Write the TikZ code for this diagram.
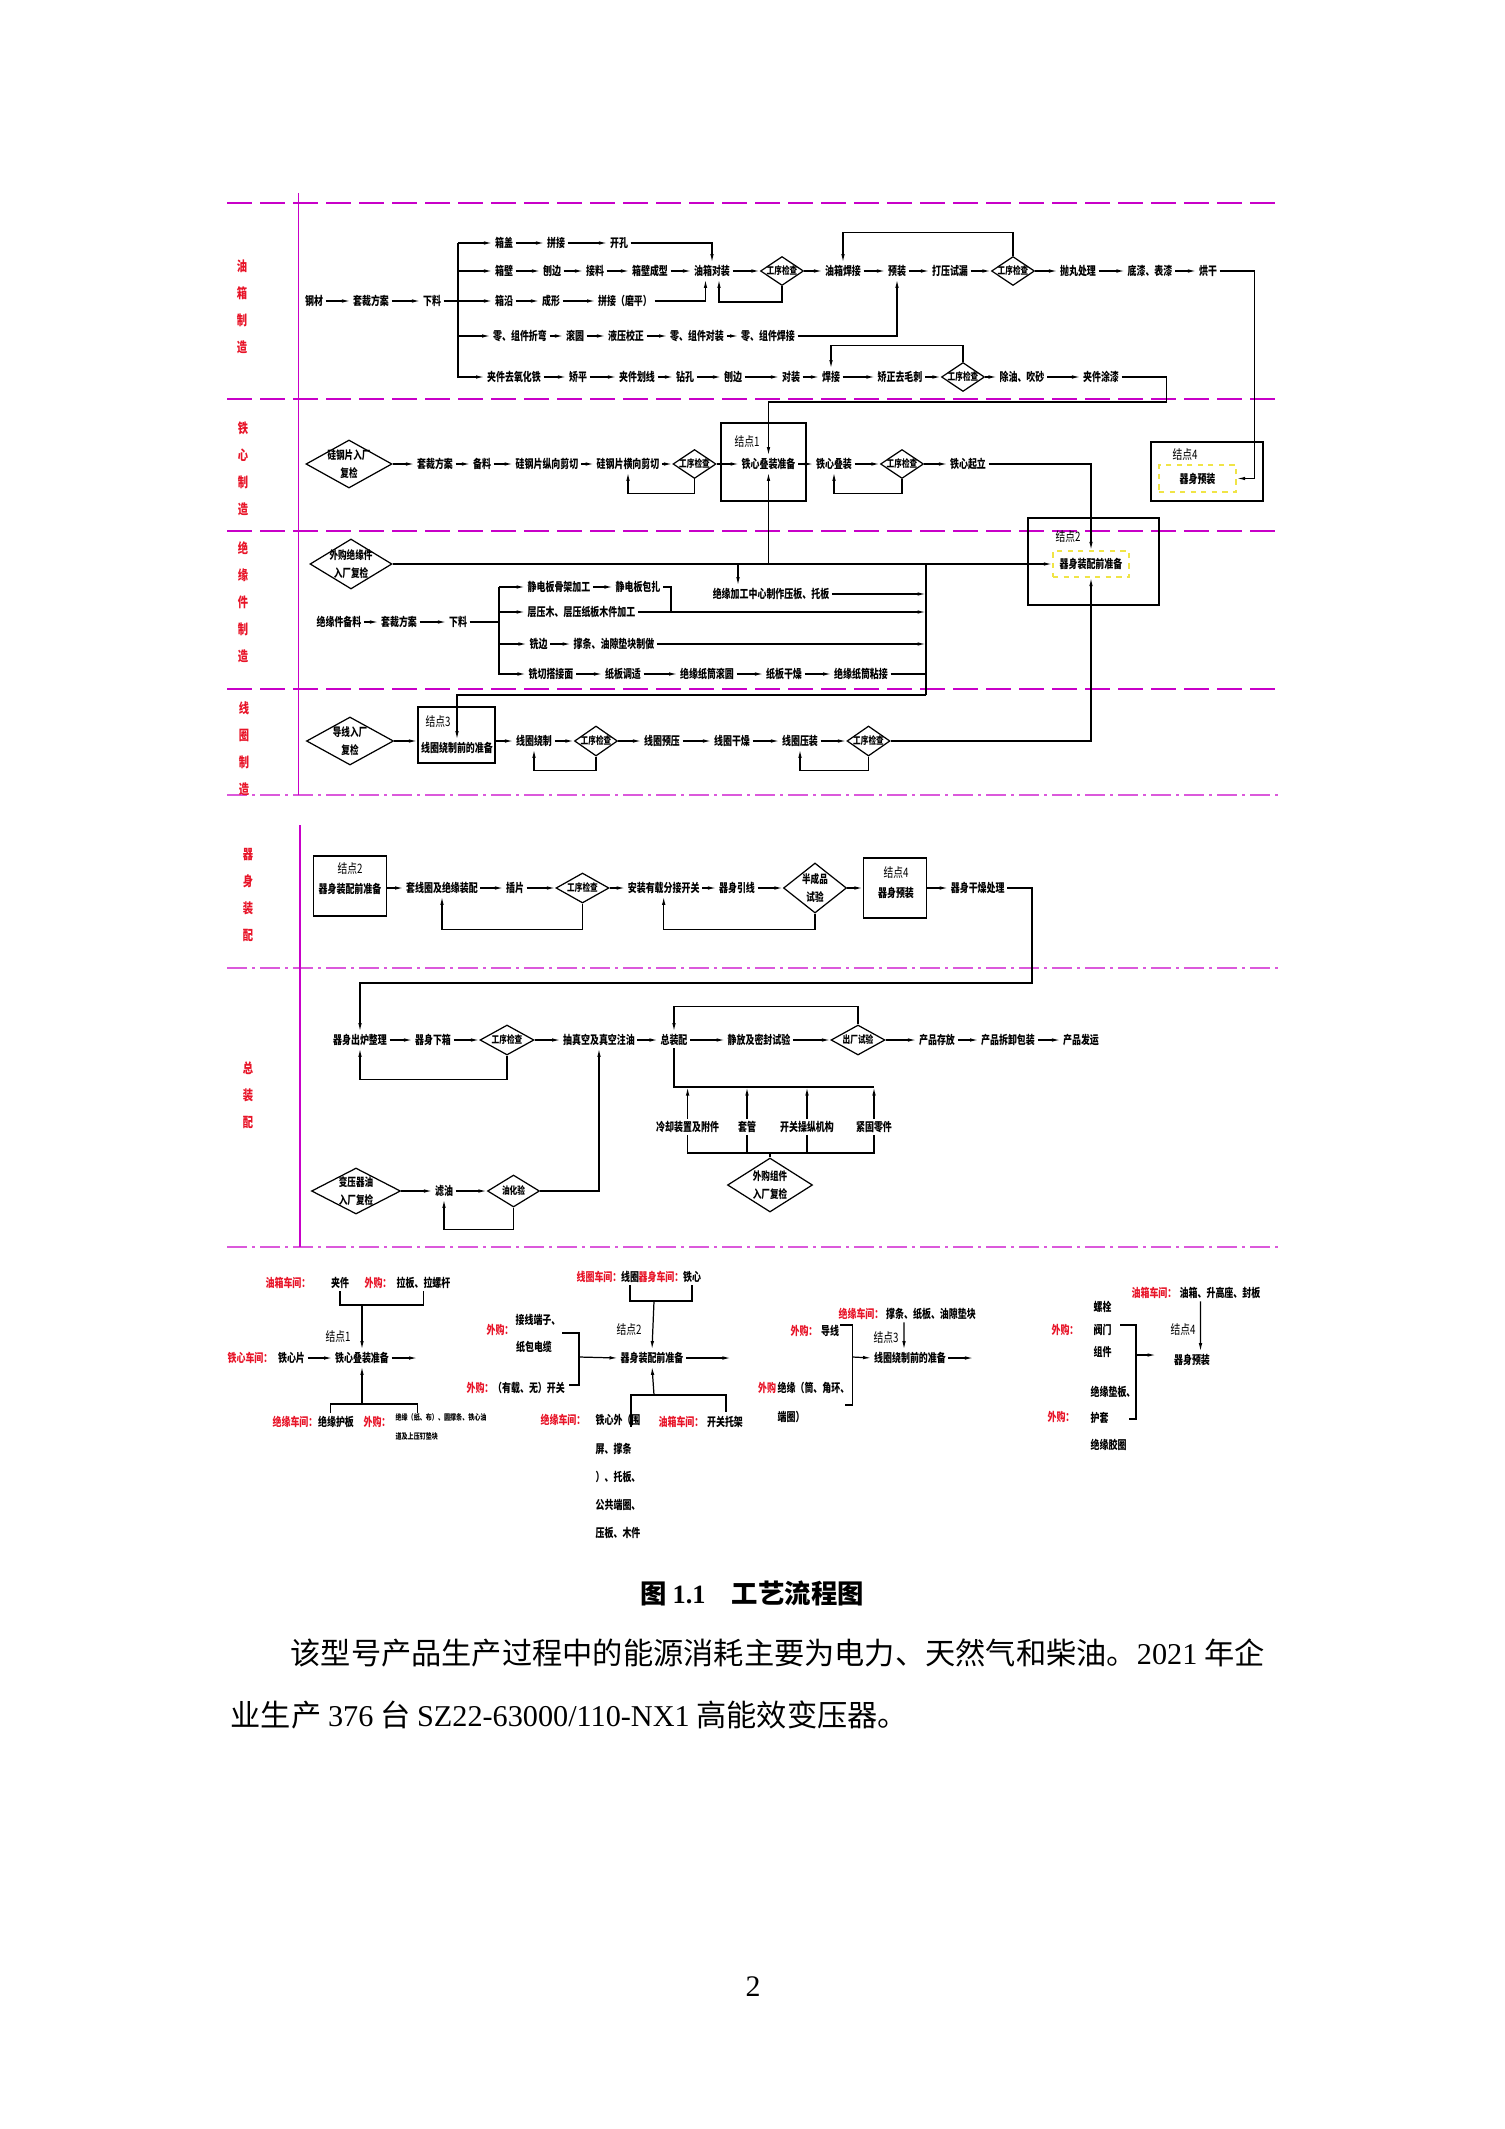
\documentclass[tikz,border=0pt]{standalone}
\usepackage{fontspec}
\setmainfont{Noto Sans CJK SC}
\newfontfamily\dgm[FakeStretch=0.75]{Noto Sans CJK SC}
\newfontfamily\lat{Liberation Serif}
\usepackage{tikz}
\usetikzlibrary{arrows.meta,shapes.geometric}
\definecolor{lanecol}{RGB}{200,0,200}
\definecolor{shopred}{RGB}{232,20,40}
\definecolor{knotyel}{RGB}{240,228,70}

\begin{document}
\begin{tikzpicture}[x=0.2mm,y=-0.2mm,line width=0.7pt]
  \tikzstyle{every node}=[font=\dgm\bfseries\fontsize{6.8}{8}\selectfont,inner sep=0.4mm]
  \tikzstyle{arr}=[-{Latex[length=1.7mm,width=0.7mm]}]
  \tikzstyle{lanea}=[draw=lanecol,line width=0.75pt,dash pattern=on 5mm off 1.6mm]
  \tikzstyle{laneb}=[draw=lanecol!65,line width=0.8pt,dash pattern=on 4mm off 1mm on 0.6mm off 1mm]
  \tikzstyle{lanev}=[draw=lanecol,line width=0.6pt]
  \tikzstyle{lanetxt}=[text=shopred,align=center,font=\dgm\bfseries\fontsize{7.8}{15.4}\selectfont]
  \tikzstyle{shop}=[text=shopred,font=\dgm\bfseries\fontsize{6.8}{8}\selectfont]
  \tikzstyle{dtxt}=[align=center,font=\dgm\bfseries\fontsize{5.8}{8}\selectfont]
  \tikzstyle{btxt}=[align=center,font=\dgm\bfseries\fontsize{6.5}{10}\selectfont]
  \tikzstyle{chk}=[diamond,draw,inner sep=0,minimum width=8.6mm,minimum height=5.8mm,label={[dtxt]center:工序检查}]
  \tikzstyle{gate}=[diamond,draw,inner sep=0]
  \tikzstyle{knot}=[rectangle,draw,inner sep=0]
  \tikzstyle{pre}=[rectangle,draw=knotyel,dashed,line width=0.8pt,inner sep=0]
  \tikzstyle{knotlab}=[font=\dgm\fontsize{7.4}{8}\selectfont]

  \fill[white] (0,0) rectangle (1505,2129);
  \useasboundingbox (0,0) rectangle (1505,2129);

  % lanes
  \foreach \y in {203,399,531,689} \draw[lanea] (227,\y) -- (1275,\y);
  \foreach \y in {795,968,1247} \draw[laneb] (227,\y) -- (1278,\y);
  \draw[lanev] (298.5,193) -- (298.5,795);
  \draw[lanev] (300,825) -- (300,1247);
  \node (ln1) at (242,307) [lanetxt] {油\\箱\\制\\造};
  \node (ln2) at (243,469) [lanetxt] {铁\\心\\制\\造};
  \node (ln3) at (243,602) [lanetxt] {绝\\缘\\件\\制\\造};
  \node (ln4) at (244,749) [lanetxt] {线\\圈\\制\\造};
  \node (ln5) at (248,895) [lanetxt] {器\\身\\装\\配};
  \node (ln6) at (248,1095) [lanetxt] {总\\装\\配};

  % oil tank
  \node (gc)   at (314,301) {钢材};
  \node (tc1)  at (371,301) {套裁方案};
  \node (xl1)  at (432,301) {下料};
  \coordinate (yxbus) at (458,243);
  \node (xg)   at (504,243) {箱盖};
  \node (pj1)  at (556,243) {拼接};
  \node (kk)   at (619,243) {开孔};
  \node (xb)   at (504,271) {箱壁};
  \node (bb1)  at (552,271) {刨边};
  \node (jl)   at (595,271) {接料};
  \node (xbcx) at (650,271) {箱壁成型};
  \node (dz)   at (712,271) {油箱对装};
  \node (c1)   at (782,271) [chk] {};
  \node (hj1)  at (843,271) {油箱焊接};
  \node (yz)   at (897,271) {预装};
  \node (dy)   at (950,271) {打压试漏};
  \node (c2)   at (1013,271) [chk] {};
  \node (pw)   at (1078,271) {抛丸处理};
  \node (dq)   at (1150,271) {底漆、表漆};
  \node (hg)   at (1208,271) {烘干};
  \node (xy)   at (504,301) {箱沿};
  \node (cx)   at (551,301) {成形};
  \node (pjm)  at (625,301) {拼接（磨平）};
  \node (lzw)  at (520,336) {零、组件折弯};
  \node (gy)   at (575,336) {滚圆};
  \node (yy)   at (626,336) {液压校正};
  \node (ldz)  at (697,336) {零、组件对装};
  \node (lhj)  at (768,336) {零、组件焊接};
  \node (jq)   at (514,377) {夹件去氧化铁};
  \node (jp)   at (578,377) {矫平};
  \node (jh)   at (637,377) {夹件划线};
  \node (zk)   at (685,377) {钻孔};
  \node (bb2)  at (733,377) {刨边};
  \node (dz2)  at (791,377) {对装};
  \node (hj2)  at (831,377) {焊接};
  \node (jz)   at (900,377) {矫正去毛刺};
  \node (c3)   at (963,377) [chk] {};
  \node (cy)   at (1022,377) {除油、吹砂};
  \node (jtq)  at (1101,377) {夹件涂漆};

  \draw[arr] (gc) -- (tc1);
  \draw[arr] (tc1) -- (xl1);
  \draw (xl1.east) -- (xl1.east -| yxbus);
  \foreach \n in {xg,xb,xy,lzw,jq} \draw[arr] (yxbus) |- (\n.west);
  \draw[arr] (xg) -- (pj1);
  \draw[arr] (pj1) -- (kk);
  \draw[arr] (kk.east) -| (dz.north);
  \draw[arr] (xb) -- (bb1);
  \draw[arr] (bb1) -- (jl);
  \draw[arr] (jl) -- (xbcx);
  \draw[arr] (xbcx) -- (dz);
  \draw[arr] (dz) -- (c1);
  \draw[arr] (c1) -- (hj1);
  \draw[arr] (hj1) -- (yz);
  \draw[arr] (yz) -- (dy);
  \draw[arr] (dy) -- (c2);
  \draw[arr] (c2) -- (pw);
  \draw[arr] (pw) -- (dq);
  \draw[arr] (dq) -- (hg);
  \draw[arr] (c1.south) -- ++(0,16) -| ([xshift=1.4mm]dz.south);
  \draw[arr] (c2.north) -- ++(0,-23) -| (hj1.north);
  \draw[arr] (xy) -- (cx);
  \draw[arr] (cx) -- (pjm);
  \draw[arr] (pjm.east) -| ([xshift=-1.3mm]dz.south);
  \draw[arr] (lzw) -- (gy);
  \draw[arr] (gy) -- (yy);
  \draw[arr] (yy) -- (ldz);
  \draw[arr] (ldz) -- (lhj);
  \draw[arr] (lhj.east) -| (yz.south);
  \draw[arr] (jq) -- (jp);
  \draw[arr] (jp) -- (jh);
  \draw[arr] (jh) -- (zk);
  \draw[arr] (zk) -- (bb2);
  \draw[arr] (bb2) -- (dz2);
  \draw[arr] (dz2) -- (hj2);
  \draw[arr] (hj2) -- (jz);
  \draw[arr] (jz) -- (c3);
  \draw[arr] (c3) -- (cy);
  \draw[arr] (cy) -- (jtq);
  \draw[arr] (c3.north) -- ++(0,-16) -| (hj2.north);

  % core
  \node (k1)   at (763.5,462) [knot,minimum width=17mm,minimum height=15.6mm] {};
  \node (k1lab) at (747,442) [knotlab] {结点1};
  \node (k4)   at (1207,471.5) [knot,minimum width=22.4mm,minimum height=11.8mm] {};
  \node (k4lab) at (1185,455) [knotlab] {结点4};
  \node (ysz)  at (1197.5,478.5) [pre,minimum width=15.4mm,minimum height=5.4mm] {器身预装};
  \node (gj)   at (349,464) [gate,minimum width=17.2mm,minimum height=9.6mm,label={[btxt]center:硅钢片入厂\\复检}] {};
  \node (tc2)  at (435,464) {套裁方案};
  \node (bl)   at (482,464) {备料};
  \node (zx)   at (547,464) {硅钢片纵向剪切};
  \node (hx)   at (628,464) {硅钢片横向剪切};
  \node (c4)   at (694.5,464) [chk] {};
  \node (tdz)  at (768.5,464) {铁心叠装准备};
  \node (tdx)  at (834,464) {铁心叠装};
  \node (c5)   at (902,464) [chk] {};
  \node (tqz)  at (968,464) {铁心起立};

  \draw[arr] (gj) -- (tc2);
  \draw[arr] (tc2) -- (bl);
  \draw[arr] (bl) -- (zx);
  \draw[arr] (zx) -- (hx);
  \draw[arr] (hx) -- (c4);
  \draw[arr] (c4) -- (tdz);
  \draw[arr] (tdz) -- (tdx);
  \draw[arr] (tdx) -- (c5);
  \draw[arr] (c5) -- (tqz);
  \draw[arr] (c4.south) -- ++(0,14) -| (hx.south);
  \draw[arr] (c5.south) -- ++(0,14) -| (tdx.south);
  \draw[arr] (jtq.east) -- ++(45,0) -- ++(0,25) -| (tdz.north);
  \draw[arr] (hg.east) -- ++(35,0) |- (ysz.east);

  % insulation
  \node (k2)   at (1093.5,561.5) [knot,minimum width=26.2mm,minimum height=17.4mm] {};
  \node (k2lab) at (1068,537) [knotlab] {结点2};
  \node (qzb)  at (1091,564) [pre,minimum width=15.2mm,minimum height=5.2mm] {器身装配前准备};
  \node (wg)   at (351,564) [gate,minimum width=16.4mm,minimum height=10mm,label={[btxt]center:外购绝缘件\\入厂复检}] {};
  \node (jgzx) at (771,594) {绝缘加工中心制作压板、托板};
  \node (jcl)  at (339,622) {绝缘件备料};
  \node (tc3)  at (399,622) {套裁方案};
  \node (xl3)  at (458,622) {下料};
  \coordinate (jybus) at (499,587);
  \node (jdgj) at (559,587) {静电板骨架加工};
  \node (jdbz) at (638,587) {静电板包扎};
  \node (cym)  at (581.5,612) {层压木、层压纸板木件加工};
  \node (xb3)  at (538.5,644) {铣边};
  \node (ctd)  at (614,644) {撑条、油隙垫块制做};
  \node (xq)   at (551,674) {铣切搭接面};
  \node (ztz)  at (623,674) {纸板调适};
  \node (ztgy) at (707,674) {绝缘纸筒滚圆};
  \node (zbgz) at (784,674) {纸板干燥};
  \node (ztnj) at (861,674) {绝缘纸筒粘接};
  \coordinate (jgtop) at (738,564);
  \coordinate (bartop) at (926,564);
  \coordinate (barbot) at (926,695);

  \draw[arr] (tqz.east) -| (qzb.north);
  \draw[arr] (wg.east) -- (qzb.west);
  \draw[arr] (tdz |- wg.east) -- (tdz.south);
  \draw[arr] (jgtop) -- (jgtop |- jgzx.north);
  \draw (bartop) -- (barbot);
  \draw[arr] (jcl) -- (tc3);
  \draw[arr] (tc3) -- (xl3);
  \draw (xl3.east) -- (xl3.east -| jybus);
  \foreach \n in {jdgj,cym,xb3,xq} \draw[arr] (jybus) |- (\n.west);
  \draw[arr] (jdgj) -- (jdbz);
  \draw (jdbz.east) -- ++(8,0) -- ++(0,25);
  \draw[arr] (xb3) -- (ctd);
  \draw[arr] (xq) -- (ztz);
  \draw[arr] (ztz) -- (ztgy);
  \draw[arr] (ztgy) -- (zbgz);
  \draw[arr] (zbgz) -- (ztnj);
  \draw[arr] (jgzx.east) -- (jgzx.east -| bartop);
  \draw[arr] (cym.east) -- (cym.east -| bartop);
  \draw[arr] (ctd.east) -- (ctd.east -| bartop);
  \draw (ztnj.east) -- (ztnj.east -| bartop);

  % coil
  \node (k3)   at (456.5,735) [knot,minimum width=15.4mm,minimum height=11.2mm] {};
  \node (k3lab) at (438,722) [knotlab] {结点3};
  \node (xqz)  at (457,748) {线圈绕制前的准备};
  \node (dx)   at (350,741) [gate,minimum width=17.4mm,minimum height=9.6mm,label={[btxt]center:导线入厂\\复检}] {};
  \node (xrz)  at (534,741) {线圈绕制};
  \node (c6)   at (596,741) [chk,minimum height=6mm] {};
  \node (xyy)  at (662,741) {线圈预压};
  \node (xgz)  at (732,741) {线圈干燥};
  \node (xyz)  at (800,741) {线圈压装};
  \node (c7)   at (868.5,741) [chk,minimum height=6mm] {};

  \draw[arr] (barbot) -| (xqz.north);
  \draw[arr] (dx.east) -- (k3.west |- dx.east);
  \draw[arr] (k3.east |- xrz.west) -- (xrz.west);
  \draw[arr] (xrz) -- (c6);
  \draw[arr] (c6) -- (xyy);
  \draw[arr] (xyy) -- (xgz);
  \draw[arr] (xgz) -- (xyz);
  \draw[arr] (xyz) -- (c7);
  \draw[arr] (c6.south) -- ++(0,14) -| (xrz.south);
  \draw[arr] (c7.south) -- ++(0,14) -| (xyz.south);
  \draw[arr] (c7.east) -| (qzb.south);

  % body assembly
  \node (kb2)  at (350,886) [knot,minimum width=14.7mm,minimum height=12mm] {};
  \node (kb2lab) at (350,869) [knotlab] {结点2};
  \node (qz5)  at (350,889) {器身装配前准备};
  \node (tq)   at (442,888) {套线圈及绝缘装配};
  \node (cp)   at (515,888) {插片};
  \node (c8)   at (582.5,888) [chk,minimum width=10.6mm,minimum height=6mm] {};
  \node (az)   at (663.7,888) {安装有载分接开关};
  \node (qyx)  at (737,888) {器身引线};
  \node (bcp)  at (815,888) [gate,minimum width=12.6mm,minimum height=10mm,label={[btxt]center:半成品\\试验}] {};
  \node (kb4)  at (895,888) [knot,minimum width=12.6mm,minimum height=12mm] {};
  \node (kb4lab) at (896,873) [knotlab] {结点4};
  \node (qyz5) at (896,893) {器身预装};
  \node (qgz)  at (977.7,888) {器身干燥处理};
  \coordinate (turn5) at (1032,983);

  \draw[arr] (kb2.east |- tq.west) -- (tq.west);
  \draw[arr] (tq) -- (cp);
  \draw[arr] (cp) -- (c8);
  \draw[arr] (c8) -- (az);
  \draw[arr] (az) -- (qyx);
  \draw[arr] (qyx) -- (bcp);
  \draw[arr] (bcp) -- (kb4);
  \draw[arr] (kb4) -- (qgz);
  \draw[arr] (c8.south) -- ++(0,26) -| (tq.south);
  \draw[arr] (bcp.south) -- ++(0,16) -| (az.south);

  % final assembly
  \node (clzl) at (360,1040) {器身出炉整理};
  \node (qx)   at (433,1040) {器身下箱};
  \node (c9)   at (507,1040) [chk,minimum width=10.8mm,minimum height=6mm] {};
  \node (cz)   at (599,1040) {抽真空及真空注油};
  \node (zzp)  at (674,1040) {总装配};
  \node (jf)   at (759,1040) {静放及密封试验};
  \node (cc)   at (858,1040) [gate,minimum width=10.8mm,minimum height=6mm,label={[dtxt]center:出厂试验}] {};
  \node (cpcf) at (937,1040) {产品存放};
  \node (cpbz) at (1008,1040) {产品拆卸包装};
  \node (cpfy) at (1081,1040) {产品发运};
  \coordinate (pbus) at (874,1087);
  \node (lq)   at (687.6,1127) {冷却装置及附件};
  \node (tg)   at (747,1127) {套管};
  \node (kgc)  at (807,1127) {开关操纵机构};
  \node (jg)   at (874,1127) {紧固零件};
  \coordinate (wbus) at (770,1153);
  \node (wg2)  at (770,1185) [gate,minimum width=17mm,minimum height=10.8mm,label={[btxt]center:外购组件\\入厂复检}] {};
  \node (by)   at (356,1191) [gate,minimum width=17.8mm,minimum height=9.2mm,label={[btxt]center:变压器油\\入厂复检}] {};
  \node (ly)   at (444,1191) {滤油};
  \node (yhy)  at (513.5,1191) [gate,minimum width=10.4mm,minimum height=6.4mm,label={[dtxt]center:油化验}] {};

  \draw[arr] (qgz.east) -| (turn5) -| (clzl.north);
  \draw[arr] (clzl) -- (qx);
  \draw[arr] (qx) -- (c9);
  \draw[arr] (c9) -- (cz);
  \draw[arr] (cz) -- (zzp);
  \draw[arr] (zzp) -- (jf);
  \draw[arr] (jf) -- (cc);
  \draw[arr] (cc) -- (cpcf);
  \draw[arr] (cpcf) -- (cpbz);
  \draw[arr] (cpbz) -- (cpfy);
  \draw[arr] (c9.south) -- ++(0,24) -| (clzl.south);
  \draw[arr] (cc.north) -- ++(0,-18) -| (zzp.north);
  \draw (zzp.south) |- (pbus);
  \foreach \n in {lq,tg,kgc,jg} \draw[arr] (\n.north) -- (\n.north |- pbus);
  \draw (lq.south) |- (wbus) -| (jg.south);
  \draw (tg.south) -- (tg.south |- wbus);
  \draw (kgc.south) -- (kgc.south |- wbus);
  \draw (wbus) -- (wg2.north);
  \draw[arr] (by) -- (ly);
  \draw[arr] (ly) -- (yhy);
  \draw[arr] (yhy.south) -- ++(0,22) -| (ly.south);
  \draw[arr] (yhy.east) -| (cz.south);

  % knot 1
  \node (g1s1) at (288,1283) [shop] {油箱车间：};
  \node (g1jj) at (340,1283) {夹件};
  \node (g1s2) at (378,1283) [shop] {外购：};
  \node (g1lb) at (423.5,1283) {拉板、拉螺杆};
  \coordinate (k1top) at (362,1305);
  \node (g1lab) at (338,1337) [knotlab] {结点1};
  \node (g1s3) at (250,1358) [shop] {铁心车间：};
  \node (g1tp) at (291.5,1358) {铁心片};
  \node (g1td) at (362,1358) {铁心叠装准备};
  \coordinate (k1bot) at (362,1404);
  \coordinate (k1l) at (330.7,1413);
  \coordinate (k1r) at (417.5,1413);
  \node (g1s4) at (295,1422) [shop] {绝缘车间：};
  \node (g1hb) at (336,1422) {绝缘护板};
  \node (g1s5) at (377,1422) [shop] {外购：};
  \node (g1xx) at (393,1411) [anchor=north west,align=left,font=\dgm\bfseries\fontsize{4.6}{10.5}\selectfont] {绝缘（纸、布）、圆撑条、铁心油\\道及上压钉垫块};
  \draw (g1jj.south) |- (k1top) -| (g1lb.south);
  \draw[arr] (k1top) -- (g1td.north);
  \draw[arr] (g1tp) -- (g1td);
  \draw[arr] (g1td.east) -- ++(26,0);
  \draw (k1l) |- (k1bot) -| (k1r);
  \draw[arr] (k1bot) -- (g1td.south);

  % knot 2
  \node (g2s1) at (599,1277) [shop] {线圈车间：};
  \node (g2xq) at (630,1277) {线圈};
  \node (g2s2) at (661,1277) [shop] {器身车间：};
  \node (g2tx) at (692,1277) {铁心};
  \coordinate (k2top) at (654,1301);
  \node (g2lab) at (629,1330) [knotlab] {结点2};
  \node (g2qz) at (652,1358) {器身装配前准备};
  \node (g2s3) at (500,1330) [shop] {外购：};
  \node (g2jx) at (538,1320) {接线端子、};
  \node (g2zb) at (534,1347) {纸包电缆};
  \node (g2s4) at (480,1388) [shop] {外购：};
  \node (g2kg) at (529,1388) {（有载、无）开关};
  \coordinate (k2a) at (562,1333);
  \coordinate (k2m) at (579,1357);
  \coordinate (k2b) at (569,1385);
  \coordinate (k2bot) at (654,1395);
  \coordinate (k2l) at (631,1427);
  \coordinate (k2r) at (726,1412);
  \node (g2s5) at (563,1420) [shop] {绝缘车间：};
  \node (g2tw) at (593,1412) [anchor=north west,align=left,font=\dgm\bfseries\fontsize{6.8}{16}\selectfont] {铁心外（围\\屏、撑条\\）、托板、\\公共端圈、\\压板、木件};
  \node (g2s6) at (681,1422) [shop] {油箱车间：};
  \node (g2tj) at (725,1422) {开关托架};
  \draw (g2xq.south) |- (k2top) -| (g2tx.south);
  \draw[arr] (k2top) -- (g2qz.north);
  \draw (k2a) -| (k2m) |- (k2b);
  \draw[arr] (k2m) -- (g2qz.west);
  \draw[arr] (g2qz.east) -- ++(45,0);
  \draw (k2l) |- (k2bot) -| (k2r);
  \draw[arr] (k2bot) -- (g2qz.south);

  % knot 3
  \node (g3s1) at (861,1314) [shop] {绝缘车间：};
  \node (g3cz) at (931,1314) {撑条、纸板、油隙垫块};
  \node (g3lab) at (886,1338) [knotlab] {结点3};
  \node (g3xq) at (910,1358) {线圈绕制前的准备};
  \node (g3s2) at (804,1331) [shop] {外购：};
  \node (g3dx) at (830,1331) {导线};
  \node (g3s3) at (767,1388) [shop] {外购};
  \node (g3jy) at (775,1388) [anchor=west] {绝缘（筒、角环、};
  \node (g3dq) at (775,1417) [anchor=west] {端圈）};
  \coordinate (k3a) at (840,1325);
  \coordinate (k3m) at (852.5,1357);
  \coordinate (k3b) at (845,1405);
  \draw[arr] ([xshift=-5.4mm]g3cz.south) -- ([xshift=-1.2mm]g3xq.north);
  \draw (k3a) -| (k3m) |- (k3b);
  \draw[arr] (k3m) -- (g3xq.west);
  \draw[arr] (g3xq.east) -- ++(25,0);

  % knot 4
  \node (g4s1) at (1154,1293) [shop] {油箱车间：};
  \node (g4yx) at (1220,1293) {油箱、升高座、封板};
  \node (g4lab) at (1183,1330) [knotlab] {结点4};
  \node (g4yz) at (1192,1360) {器身预装};
  \node (g4s2) at (1065,1330) [shop] {外购：};
  \node (g4ls) at (1102.5,1307) {螺栓};
  \node (g4fm) at (1102.5,1330) {阀门};
  \node (g4zj) at (1102.5,1352) {组件};
  \node (g4s3) at (1061,1417) [shop] {外购：};
  \node (g4db) at (1088,1392) [anchor=west] {绝缘垫板、};
  \node (g4ht) at (1088,1418) [anchor=west] {护套};
  \node (g4jq) at (1088,1445) [anchor=west] {绝缘胶圈};
  \coordinate (k4a) at (1120,1325);
  \coordinate (k4m) at (1136,1355);
  \coordinate (k4b) at (1129,1419);
  \draw[arr] ([xshift=-3.9mm]g4yx.south) -- ([xshift=1.7mm]g4yz.north);
  \draw (k4a) -| (k4m) |- (k4b);
  \draw[arr] (k4m) -- ++(20,0);

  % caption and text
  \node (cap) at (752,1593) [font=\bfseries\fontsize{15}{18}\selectfont] {图 {\lat 1.1}\quad 工艺流程图};
  \node (par1) at (290,1653) [anchor=west,inner sep=0,font=\fontsize{17.2}{20}\selectfont] {该型号产品生产过程中的能源消耗主要为电力、天然气和柴油。{\lat 2021} 年企};
  \node (par2) at (230,1715) [anchor=west,inner sep=0,font=\fontsize{17.2}{20}\selectfont] {业生产 {\lat 376} 台 {\lat SZ22-63000/110-NX1} 高能效变压器。};
  \node (pgno) at (753,1987) [font=\lat\fontsize{17}{20}\selectfont] {2};
\end{tikzpicture}
\end{document}
